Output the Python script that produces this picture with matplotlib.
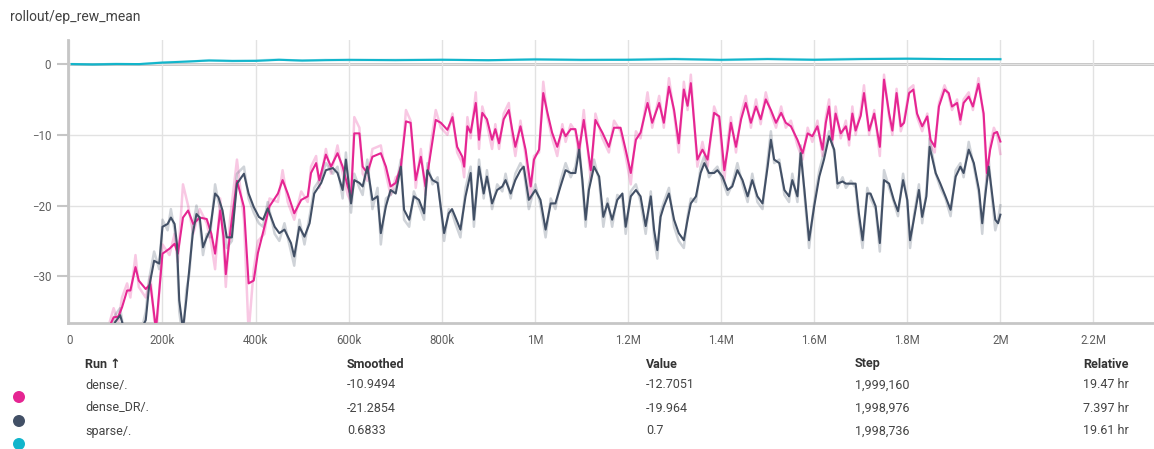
import matplotlib
matplotlib.use("Agg")
import matplotlib.pyplot as plt
from matplotlib.patches import Ellipse

plt.rcParams['font.family'] = ['Roboto', 'DejaVu Sans']

# steps are in thousands
dense_steps = [
    80, 95, 105, 113, 124, 131, 142, 149, 164, 174, 186, 200, 215, 226, 233, 244, 255, 266, 280, 295,
    305, 313, 324, 331, 336, 345, 360, 375, 385, 396, 405, 419, 430, 448, 458, 469, 483, 498, 512, 519,
    530, 537, 551, 562, 576, 587, 598, 605, 612, 623, 630, 640, 651, 669, 680, 690, 701, 712, 723, 733,
    744, 755, 765, 776, 787, 798, 812, 823, 833, 844, 848, 855, 862, 873, 880, 887, 897, 908, 915, 923,
    933, 944, 951, 958, 969, 980, 991, 998, 1009, 1018, 1027, 1037, 1048, 1059, 1066, 1077, 1087, 1095, 1105, 1120,
    1130, 1145, 1159, 1170, 1184, 1195, 1206, 1217, 1227, 1242, 1252, 1267, 1277, 1288, 1299, 1309, 1320, 1328, 1335, 1349,
    1360, 1371, 1385, 1396, 1407, 1414, 1421, 1432, 1443, 1453, 1464, 1475, 1485, 1496, 1507, 1518, 1529, 1539, 1550, 1564,
    1575, 1586, 1596, 1607, 1618, 1625, 1632, 1639, 1646, 1657, 1668, 1675, 1682, 1689, 1700, 1707, 1718, 1729, 1741, 1750,
    1761, 1768, 1777, 1786, 1793, 1804, 1813, 1821, 1832, 1843, 1850, 1859, 1868, 1880, 1889, 1896, 1907, 1914, 1921, 1932,
    1941, 1953, 1964, 1971, 1978, 1986, 1993, 2000,
]
dense_smoothed = [
    -38, -35.8, -35.7, -34.4, -32.0, -32.0, -28.7, -30.6, -31.8, -31.1, -37.5, -26.8, -26.1, -25.4, -26.8, -21.7, -20.7, -22.6, -21.7, -21.9,
    -24.0, -26.8, -20.7, -24.4, -29.7, -24.0, -16.5, -20.2, -31.0, -30.6, -26.7, -23.0, -20.1, -18.3, -16.4, -18.3, -21.1, -19.2, -18.7, -15.4,
    -14.0, -16.4, -12.8, -14.5, -12.6, -14.5, -17.3, -18.7, -9.8, -9.8, -14.5, -15.4, -13.1, -12.6, -14.5, -17.3, -16.8, -14.5, -8.1, -8.3,
    -16.4, -13.1, -17.3, -12.6, -7.9, -8.3, -9.3, -7.5, -11.7, -13.1, -14.5, -8.8, -9.7, -5.5, -10.7, -6.9, -7.8, -10.7, -9.2, -11.2,
    -7.8, -6.5, -9.2, -11.7, -8.8, -12.1, -17.3, -13.5, -12.1, -4.1, -6.9, -9.7, -11.7, -9.2, -10.2, -9.2, -9.2, -12.1, -7.9, -15.0,
    -7.9, -9.7, -11.7, -9.0, -9.0, -12.1, -15.4, -10.7, -9.7, -5.5, -8.3, -5.5, -8.3, -3.2, -6.5, -11.2, -3.6, -5.9, -2.7, -13.5,
    -12.1, -13.5, -6.9, -7.4, -15.0, -12.1, -8.3, -11.7, -7.8, -5.5, -8.3, -6.0, -7.8, -5.0, -6.5, -8.3, -6.9, -8.3, -8.8, -10.7,
    -12.6, -9.8, -10.2, -8.8, -12.1, -8.3, -6.0, -10.7, -7.0, -9.8, -8.8, -10.7, -7.0, -9.4, -7.3, -4.1, -9.4, -7.0, -11.7, -2.2,
    -7.0, -9.4, -4.1, -8.8, -8.3, -4.1, -3.6, -7.0, -8.8, -7.4, -10.7, -11.7, -6.0, -3.6, -4.1, -6.0, -5.5, -7.9, -5.5, -4.6,
    -6.0, -2.8, -7.0, -15.4, -12.1, -9.8, -9.6, -10.95,
]
dense_raw = [
    -38, -34.5, -36.5, -33, -31, -33, -27, -31.5, -33, -30, -39, -25.5, -27, -24, -28, -17, -20, -24, -20.5, -22.5,
    -25.5, -29, -19, -25.5, -31.5, -22, -13.5, -22, -38, -29, -25, -24, -19, -19.5, -15, -19.5, -22, -18, -19.5, -14.5,
    -13, -17.5, -12, -15.5, -11.5, -15.5, -18.5, -19.5, -7.5, -9, -15.5, -16.5, -12, -11.5, -15.5, -18.5, -16, -15.5, -6.5, -8,
    -17.5, -12, -18.5, -11.5, -6.5, -9, -10, -7, -12.5, -14, -16, -7.5, -10.5, -4, -12, -6, -8.5, -12, -8.5, -12,
    -7, -5.5, -10, -13, -8, -13, -19, -13, -12.5, -2.5, -7.5, -10.5, -13, -8.5, -11, -8.5, -9.5, -13, -6.5, -16.5,
    -7, -10.5, -12.5, -8, -9.5, -13, -17, -9.5, -10.5, -4, -9, -4.5, -9, -2, -7, -12.5, -2.5, -6.5, -1.5, -14.5,
    -11, -14.5, -6, -8, -16.5, -11, -7.5, -12.5, -7, -4.5, -9, -5, -8.5, -4, -7, -9, -6, -9, -8, -11.5,
    -13.5, -9, -11, -8, -13, -7.5, -5, -11.5, -6, -10.5, -8, -11.5, -6, -10, -6.5, -3, -10, -6.5, -13, -1.5,
    -7.5, -10, -3.5, -9.5, -8, -3.5, -3, -7.5, -9.5, -7, -11.5, -12.5, -5.5, -3, -4.5, -6.5, -5, -8.5, -5, -4,
    -6.5, -2, -7.5, -16.5, -11.5, -9, -10, -12.7051,
]

dr_steps = [
    90, 98, 109, 120, 150, 164, 171, 182, 193, 200, 211, 218, 226, 231, 236, 244, 251, 258, 265, 273,
    280, 287, 295, 302, 313, 320, 329, 338, 349, 360, 375, 385, 396, 407, 416, 426, 441, 451, 462, 476,
    483, 494, 505, 516, 526, 541, 551, 566, 576, 587, 594, 605, 612, 623, 630, 640, 651, 662, 669, 680,
    690, 701, 712, 719, 730, 740, 751, 762, 769, 780, 791, 805, 815, 822, 829, 840, 851, 862, 869, 880,
    890, 897, 908, 919, 930, 937, 948, 958, 969, 976, 987, 1001, 1012, 1023, 1034, 1044, 1055, 1066, 1077, 1087,
    1095, 1102, 1109, 1116, 1127, 1138, 1147, 1156, 1166, 1177, 1188, 1195, 1206, 1217, 1227, 1238, 1249, 1256, 1263, 1270,
    1277, 1288, 1299, 1309, 1320, 1328, 1335, 1346, 1356, 1364, 1374, 1385, 1392, 1403, 1414, 1424, 1435, 1446, 1457, 1467,
    1478, 1489, 1500, 1507, 1514, 1525, 1536, 1546, 1553, 1564, 1571, 1579, 1589, 1600, 1611, 1621, 1632, 1643, 1650, 1661,
    1668, 1679, 1689, 1696, 1704, 1714, 1721, 1732, 1741, 1750, 1761, 1771, 1780, 1791, 1800, 1806, 1814, 1825, 1832, 1841,
    1848, 1861, 1871, 1882, 1893, 1904, 1914, 1921, 1932, 1943, 1954, 1961, 1968, 1975, 1982, 1989, 1995, 2000,
]
dr_smoothed = [
    -38, -36.5, -35.5, -38, -38, -36.2, -31.6, -27.8, -28.2, -23.0, -22.6, -21.7, -22.6, -25.4, -33.4, -37.5, -33.4, -28.7, -24.0, -21.2,
    -21.7, -25.9, -24.5, -23.5, -18.3, -18.8, -20.7, -24.5, -24.5, -16.9, -15.5, -18.3, -20.2, -21.6, -22.0, -20.4, -23.0, -23.9, -23.4, -25.3,
    -27.2, -23.0, -24.4, -22.5, -18.3, -16.8, -15.0, -14.7, -15.4, -17.8, -13.5, -19.7, -16.4, -16.8, -17.3, -14.5, -19.2, -18.7, -23.9, -20.1,
    -17.8, -18.3, -14.5, -20.6, -22.0, -18.7, -19.2, -21.1, -15.0, -16.4, -16.8, -23.9, -21.1, -20.5, -21.6, -23.4, -18.7, -15.4, -22.0, -14.5,
    -18.3, -15.9, -19.7, -17.8, -17.3, -16.4, -18.3, -16.4, -15.0, -14.5, -19.2, -17.8, -19.2, -23.4, -19.7, -19.7, -17.3, -15.0, -15.4, -15.4,
    -12.1, -16.4, -22.0, -17.8, -14.5, -15.9, -21.6, -19.7, -22.0, -19.2, -18.3, -23.0, -18.7, -17.8, -18.7, -22.9, -18.7, -23.4, -26.3, -21.6,
    -20.1, -18.3, -22.0, -23.9, -24.9, -22.0, -19.7, -18.7, -15.4, -14.0, -15.4, -15.4, -15.0, -15.9, -17.8, -17.3, -15.0, -16.4, -18.7, -16.4,
    -18.7, -19.7, -14.5, -10.7, -13.5, -14.0, -17.8, -18.7, -16.4, -18.7, -12.6, -17.8, -24.9, -20.1, -15.9, -13.5, -10.2, -12.1, -16.9, -16.6,
    -16.9, -16.9, -16.9, -21.1, -24.9, -18.3, -18.3, -20.1, -25.3, -16.4, -16.9, -19.2, -20.8, -16.4, -19.2, -24.9, -22.0, -17.8, -21.6, -18.7,
    -11.7, -15.4, -16.9, -18.7, -20.6, -15.9, -14.5, -15.4, -12.1, -14.0, -17.8, -22.5, -18.3, -14.5, -18.3, -22.0, -22.5, -21.2854,
]
dr_raw = [
    -38, -35.5, -34.5, -39, -39, -35, -30.5, -26.5, -29, -22, -23.5, -20.5, -23.5, -26.5, -35, -39, -32, -29.5, -23, -20,
    -22.5, -27, -24, -24.5, -17, -19.5, -21.5, -26, -25, -15.5, -14.5, -19, -21, -22.5, -23, -19.5, -24, -25, -22.5, -26.5,
    -28.5, -22, -25.5, -21.5, -17.5, -16, -14, -15.5, -14.5, -19, -12.5, -21, -15.5, -17.5, -18.5, -13.5, -20.5, -17.5, -25.5, -19,
    -18.5, -17.5, -13.5, -22, -23, -18, -20, -22, -14, -17, -16, -25, -20.5, -21, -22.5, -24.5, -17.5, -14.5, -23, -13.5,
    -19, -15, -20.5, -17, -18, -15.5, -19, -15.5, -14, -15, -20.5, -17, -20, -24.5, -19, -20.5, -16.5, -14, -16, -14.5,
    -11, -17, -23, -17, -13.5, -16.5, -23, -19, -23, -18.5, -19, -24, -18, -17, -19.5, -24, -18, -24.5, -27.5, -21,
    -19.5, -17.5, -23, -25, -26, -21.5, -19, -19.5, -14.5, -13, -16, -15, -14.5, -16.5, -18.5, -17, -14, -17, -19.5, -15.5,
    -19.5, -20.5, -13.5, -9.5, -14, -13.5, -18.5, -19.5, -15.5, -19.5, -11.5, -18.5, -26, -19.5, -15, -12.5, -9.5, -12.5, -17.5, -16,
    -17.5, -16.5, -17.5, -22, -26, -17.5, -19, -20.5, -26.5, -15, -17.5, -19.5, -21.5, -15.5, -19.5, -26, -21.5, -17, -22.5, -18,
    -10.5, -15.5, -17.5, -19, -21.5, -15, -14, -16, -11, -14.5, -18.5, -24, -17.5, -13.5, -19, -23.5, -22, -19.964,
]

sparse_steps = [5, 50, 100, 150, 200, 250, 300, 350, 400, 450, 500, 550, 600, 700, 800, 900, 1000,
                1100, 1200, 1300, 1400, 1500, 1600, 1700, 1800, 1900, 2000]
sparse_smoothed = [0.0, -0.05, 0.0, 0.0, 0.2, 0.35, 0.5, 0.45, 0.45, 0.6, 0.5, 0.55, 0.6, 0.55, 0.6, 0.55,
                   0.65, 0.6, 0.6, 0.7, 0.6, 0.7, 0.6, 0.7, 0.75, 0.7, 0.6833]
sparse_raw = [0.0, -0.1, 0.05, -0.05, 0.25, 0.3, 0.55, 0.4, 0.5, 0.65, 0.45, 0.6, 0.55, 0.6, 0.65, 0.5,
              0.7, 0.55, 0.65, 0.75, 0.55, 0.75, 0.65, 0.75, 0.8, 0.65, 0.7]

x_ticks = [0, 200, 400, 600, 800, 1000, 1200, 1400, 1600, 1800, 2000, 2200]
x_tick_labels = ["0", "200k", "400k", "600k", "800k", "1M", "1.2M", "1.4M", "1.6M", "1.8M", "2M", "2.2M"]
y_ticks = [-30, -20, -10, 0]

runs = ["dense/.", "dense_DR/.", "sparse/."]
smoothed_last = ["-10.9494", "-21.2854", "0.6833"]
value_last = ["-12.7051", "-19.964", "0.7"]
step_last = ["1,999,160", "1,998,976", "1,998,736"]
relative = ["19.47 hr", "7.397 hr", "19.61 hr"]
colors = ["#e52592", "#425066", "#12b5cb"]

assert len(dense_steps) == len(dense_smoothed) == len(dense_raw)
assert len(dr_steps) == len(dr_smoothed) == len(dr_raw)

W, H = 1154, 449
fig = plt.figure(figsize=(W / 100, H / 100), dpi=100)
ax = fig.add_axes([68 / W, 1 - 323 / H, (W - 68) / W, 283 / H])

series = [
    (dense_steps, dense_smoothed, dense_raw),
    (dr_steps, dr_smoothed, dr_raw),
    (sparse_steps, sparse_smoothed, sparse_raw),
]
# faint raw values first, smoothed curves on top
for (st, sm, raw), c in zip(series, colors):
    ax.plot(st, raw, color=c, alpha=0.25, lw=1.8, solid_joinstyle="round", zorder=2)
for (st, sm, raw), c in zip(series, colors):
    ax.plot(st, sm, color=c, lw=1.5, solid_joinstyle="round", zorder=3)

ax.set_xlim(-3, 2330)
ax.set_ylim(-36.6, 3.4)

ax.set_xticks(x_ticks)
ax.set_xticklabels(x_tick_labels)
ax.get_xticklabels()[0].set_color("#e8e8e8")
ax.set_yticks(y_ticks)
ax.grid(True, color="#e2e2e2", lw=1)
ax.axhline(0, color="#bdbdbd", lw=2, zorder=1)

for s in ["top", "right"]:
    ax.spines[s].set_visible(False)
for s in ["left", "bottom"]:
    ax.spines[s].set_color("#c6c6c6")
    ax.spines[s].set_linewidth(2)

ax.tick_params(axis="x", length=0, pad=8, labelsize=8.3, labelcolor="#5f5f5f")
ax.tick_params(axis="y", length=8, width=1.5, color="#c6c6c6", pad=4, labelsize=8.3, labelcolor="#5f5f5f")

fig.text(10 / W, 1 - 17 / H, "rollout/ep_rew_mean", fontsize=10, color="#424242", va="center")

# run table under the chart
col_x = [85, 347, 646, 855, 1083]
headers = ["Run \u2191", "Smoothed", "Value", "Step", "Relative"]
for x, h in zip(col_x, headers):
    fig.text(x / W, 1 - 364 / H, h, fontsize=9, fontweight="bold", color="#333333", va="center")
row_y = [385, 408, 431]
for i, y in enumerate(row_y):
    for x, val in zip(col_x, [runs[i], smoothed_last[i], value_last[i], step_last[i], relative[i]]):
        fig.text(x / W, 1 - y / H, val, fontsize=9, color="#444444", va="center")

dot_y = [397, 421, 444]
for y, c in zip(dot_y, colors):
    fig.patches.append(Ellipse((19 / W, 1 - y / H), 12 / W, 12 / H, transform=fig.transFigure,
                               facecolor=c, edgecolor="none"))

fig.savefig("out.png", dpi=100)
